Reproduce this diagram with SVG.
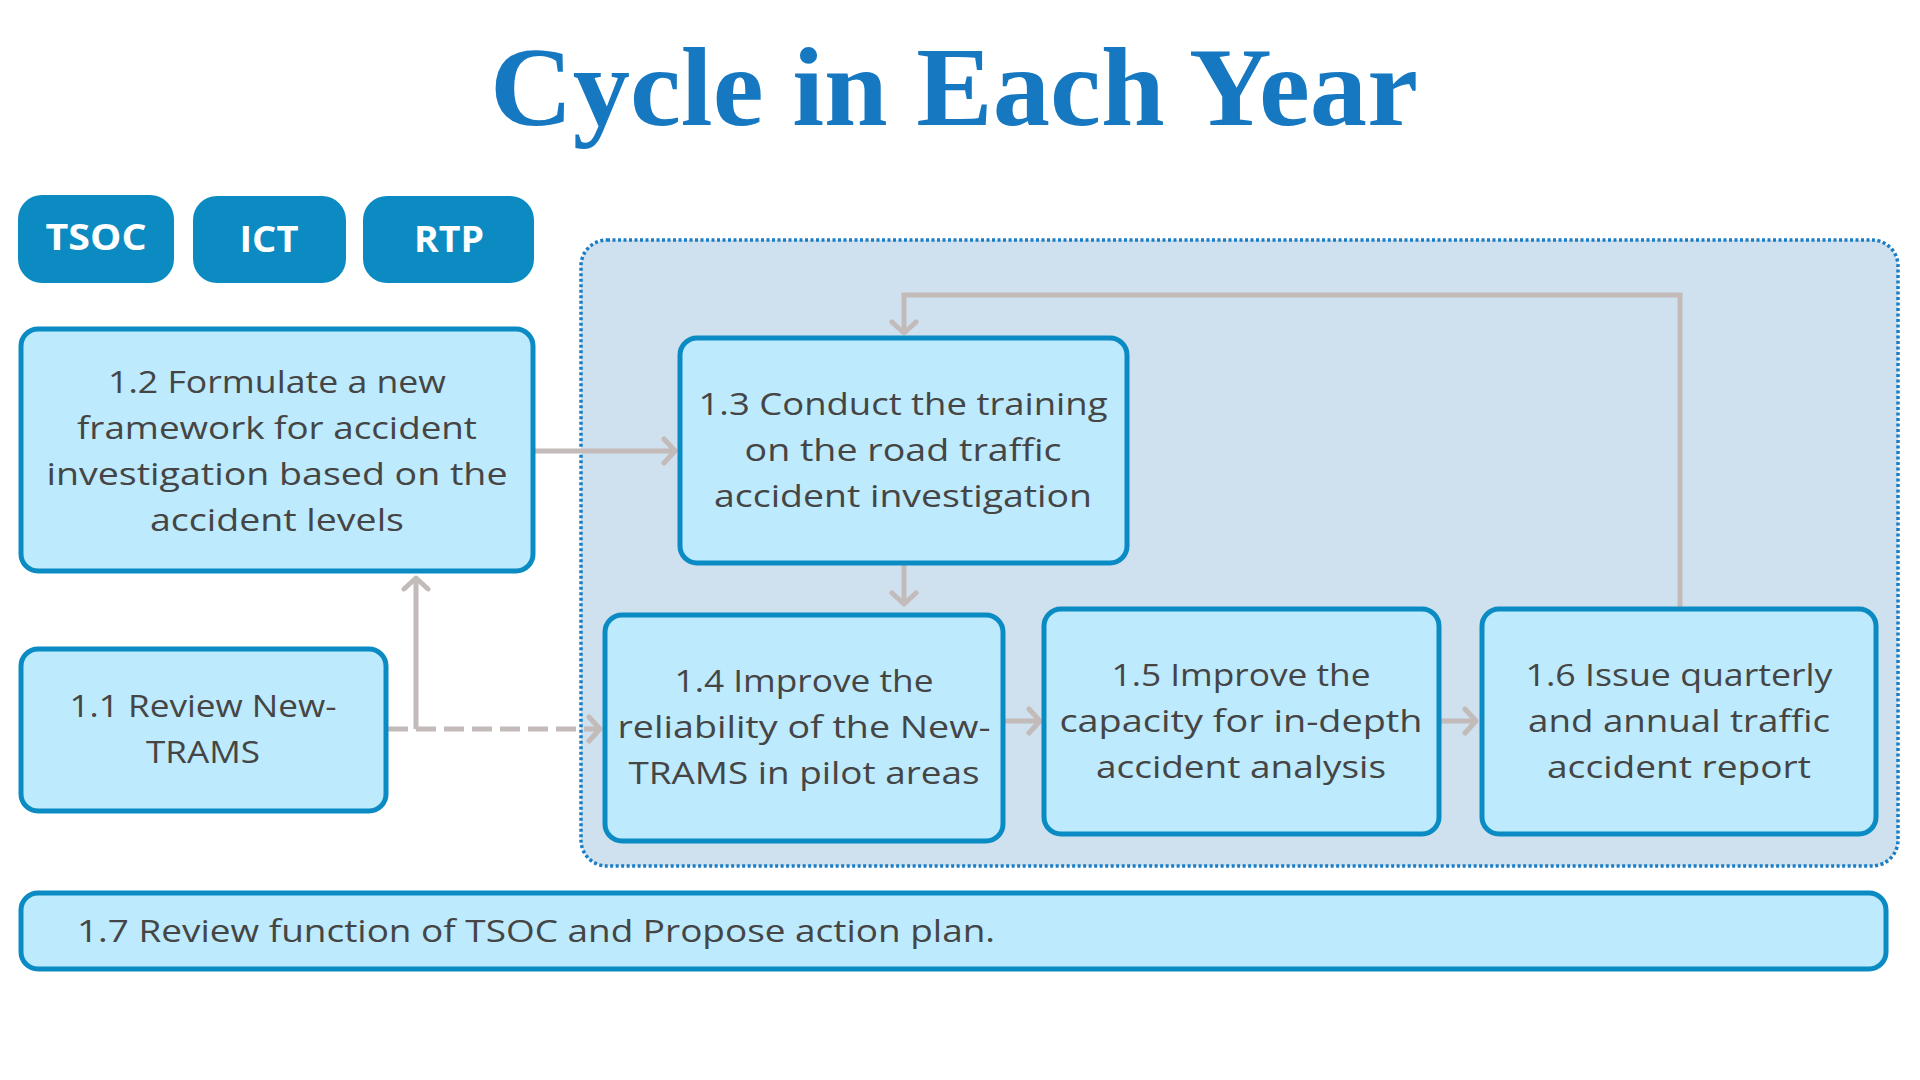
<svg xmlns="http://www.w3.org/2000/svg" width="1920" height="1080" viewBox="0 0 1920 1080">
<style>
.title{font-family:"Liberation Serif",serif;font-weight:bold;font-size:112px;fill:#1778c2}
.tag rect{fill:#0b8bc1}
.tag text{font-family:"Open Sans","Liberation Sans",sans-serif;font-weight:bold;font-size:36px;fill:#ffffff;text-anchor:middle}
.box rect{fill:#bdeafc;stroke:#0b8bc3;stroke-width:5}
.box text{font-family:"Open Sans","Liberation Sans",sans-serif;font-weight:500;font-size:31px;fill:#454545;text-anchor:middle}
.conn{fill:none;stroke:#c3baba;stroke-width:5}
</style>
<defs>
<marker id="arr" markerUnits="userSpaceOnUse" markerWidth="26" markerHeight="30" refX="14" refY="15" orient="auto">
<path d="M3,3 L14,15 L3,27" fill="none" stroke="#c3baba" stroke-width="5" stroke-linecap="round" stroke-linejoin="round"/>
</marker>
</defs>
<rect width="1920" height="1080" fill="#ffffff"/>
<text class="title" x="954" y="125" text-anchor="middle" textLength="928" lengthAdjust="spacingAndGlyphs">Cycle in Each Year</text>

<g id="container">
<rect x="581" y="240" width="1317" height="626" rx="26" fill="#cfe1ee" stroke="#1a7dc6" stroke-width="3.5" stroke-dasharray="3 2.5"/>
</g>

<g id="tag-tsoc" class="tag"><rect x="18" y="195" width="156" height="88" rx="24"/><text x="96" y="250" textLength="101" lengthAdjust="spacingAndGlyphs">TSOC</text></g>
<g id="tag-ict" class="tag"><rect x="193" y="196" width="153" height="87" rx="24"/><text x="269" y="252" textLength="59" lengthAdjust="spacingAndGlyphs">ICT</text></g>
<g id="tag-rtp" class="tag"><rect x="363" y="196" width="171" height="87" rx="24"/><text x="449" y="252" textLength="70" lengthAdjust="spacingAndGlyphs">RTP</text></g>

<g id="connectors">
<path class="conn" d="M534,451 L675,451" marker-end="url(#arr)"/>
<path class="conn" d="M904,565 L904,604" marker-end="url(#arr)"/>
<path class="conn" d="M1680,609 L1680,295 L904,295 L904,333" marker-end="url(#arr)"/>
<path class="conn" d="M1004,721 L1040,721" marker-end="url(#arr)"/>
<path class="conn" d="M1440,721 L1476,721" marker-end="url(#arr)"/>
<path class="conn" d="M388,729 L600,729" stroke-dasharray="20 8" stroke-width="6" marker-end="url(#arr)"/>
<path class="conn" d="M416,729 L416,578" marker-end="url(#arr)"/>
</g>

<g id="n12" class="box"><rect x="21" y="329" width="512" height="242" rx="17"/>
<text x="277" y="393" textLength="338" lengthAdjust="spacingAndGlyphs">1.2 Formulate a new</text>
<text x="277" y="439" textLength="400" lengthAdjust="spacingAndGlyphs">framework for accident</text>
<text x="277" y="485" textLength="461" lengthAdjust="spacingAndGlyphs">investigation based on the</text>
<text x="277" y="531" textLength="254" lengthAdjust="spacingAndGlyphs">accident levels</text></g>

<g id="n11" class="box"><rect x="21" y="649" width="365" height="162" rx="17"/>
<text x="203" y="717" textLength="267" lengthAdjust="spacingAndGlyphs">1.1 Review New-</text>
<text x="203" y="763" textLength="114" lengthAdjust="spacingAndGlyphs">TRAMS</text></g>

<g id="n13" class="box"><rect x="680" y="338" width="447" height="225" rx="17"/>
<text x="903" y="415" textLength="409" lengthAdjust="spacingAndGlyphs">1.3 Conduct the training</text>
<text x="903" y="461" textLength="317" lengthAdjust="spacingAndGlyphs">on the road traffic</text>
<text x="903" y="507" textLength="378" lengthAdjust="spacingAndGlyphs">accident investigation</text></g>

<g id="n14" class="box"><rect x="605" y="615" width="398" height="226" rx="17"/>
<text x="804" y="692" textLength="259" lengthAdjust="spacingAndGlyphs">1.4 Improve the</text>
<text x="804" y="738" textLength="373" lengthAdjust="spacingAndGlyphs">reliability of the New-</text>
<text x="804" y="784" textLength="351" lengthAdjust="spacingAndGlyphs">TRAMS in pilot areas</text></g>

<g id="n15" class="box"><rect x="1044" y="609" width="395" height="225" rx="17"/>
<text x="1241" y="686" textLength="259" lengthAdjust="spacingAndGlyphs">1.5 Improve the</text>
<text x="1241" y="732" textLength="363" lengthAdjust="spacingAndGlyphs">capacity for in-depth</text>
<text x="1241" y="778" textLength="290" lengthAdjust="spacingAndGlyphs">accident analysis</text></g>

<g id="n16" class="box"><rect x="1482" y="609" width="394" height="225" rx="17"/>
<text x="1679" y="686" textLength="307" lengthAdjust="spacingAndGlyphs">1.6 Issue quarterly</text>
<text x="1679" y="732" textLength="302" lengthAdjust="spacingAndGlyphs">and annual traffic</text>
<text x="1679" y="778" textLength="264" lengthAdjust="spacingAndGlyphs">accident report</text></g>

<g id="n17" class="box"><rect x="21" y="893" width="1865" height="76" rx="17"/>
<text x="77" y="942" style="text-anchor:start" textLength="918" lengthAdjust="spacingAndGlyphs">1.7 Review function of TSOC and Propose action plan.</text></g>
</svg>
